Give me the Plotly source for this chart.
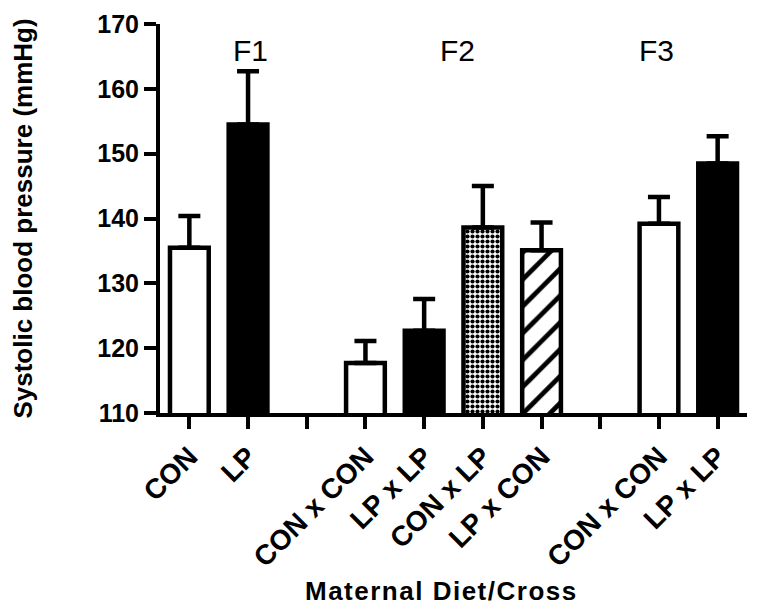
import plotly.graph_objects as go

# slots along the x axis (empty slots separate the generations)
tick_labels = ["CON", "LP", "", "CON x CON", "LP x LP", "CON x LP", "LP x CON", "", "CON x CON", "LP x LP"]
means = [135.5, 154.5, None, 117.7, 122.7, 138.6, 135.1, None, 139.2, 148.5]
sems = [4.9, 8.2, None, 3.4, 4.9, 6.4, 4.3, None, 4.1, 4.2]
styles = ["open", "solid", None, "open", "solid", "dots", "hatch", None, "open", "solid"]
generations = ["F1", "F2", "F3"]
gen_x = [1.05, 4.56, 7.95]

slots = list(range(len(tick_labels)))
FONT = "Arial, Liberation Sans, sans-serif"

style_defs = {
    "open": dict(color="white"),
    "solid": dict(color="black"),
    "dots": dict(color="white", pattern=dict(shape=".", fgcolor="black", bgcolor="white",
                                             fgopacity=1, size=5, solidity=0.55)),
    "hatch": dict(color="white", pattern=dict(shape="/", fgcolor="black", bgcolor="white",
                                              fgopacity=1, size=19, solidity=0.25)),
}

fig = go.Figure()
for sname, sdef in style_defs.items():
    idx = [i for i, s in enumerate(styles) if s == sname]
    fig.add_trace(go.Bar(
        x=[slots[i] for i in idx],
        y=[means[i] for i in idx],
        width=0.66,
        marker=dict(line=dict(color="black", width=4.5), **sdef),
        error_y=dict(type="data", array=[sems[i] for i in idx], arrayminus=[0] * len(idx),
                     symmetric=False, color="black", thickness=4.5, width=11),
        showlegend=False,
        hoverinfo="skip",
    ))

for g, gx in zip(generations, gen_x):
    fig.add_annotation(x=gx, y=165.9, xref="x", yref="y", text=g, showarrow=False,
                       font=dict(family=FONT, size=30, color="black"))

# x-axis title (placed as annotation to match the reference's offset)
fig.add_annotation(x=0.4804, y=-0.458, xref="paper", yref="paper", showarrow=False,
                   text="<span style='letter-spacing:1.5px'>Maternal Diet/Cross</span>",
                   xanchor="center", yanchor="middle",
                   font=dict(family=FONT, size=26, color="black", weight="bold"))

fig.update_layout(
    width=752, height=601,
    margin=dict(l=152, r=13, t=16, b=196, autoexpand=False),
    paper_bgcolor="white", plot_bgcolor="white",
    barmode="overlay",
)
fig.update_xaxes(
    range=[-0.5, 9.5], tickvals=slots, ticktext=tick_labels, tickangle=-45,
    showline=True, linecolor="black", linewidth=4, ticks="outside", ticklen=12,
    tickwidth=4, tickcolor="black", showgrid=False, zeroline=False,
    tickfont=dict(family=FONT, size=28, color="black", weight="bold"),
    automargin=False,
)
fig.update_yaxes(
    range=[110, 170], tickvals=[110, 120, 130, 140, 150, 160, 170],
    showline=True, linecolor="black", linewidth=4, ticks="outside", ticklen=12,
    tickwidth=4, tickcolor="black", showgrid=False, zeroline=False,
    tickfont=dict(family=FONT, size=25, color="black", weight="bold"),
    title=dict(text="Systolic blood pressure (mmHg)", standoff=62,
               font=dict(family=FONT, size=26, color="black", weight="bold")),
    automargin=False,
)

fig.write_html("out.html")
